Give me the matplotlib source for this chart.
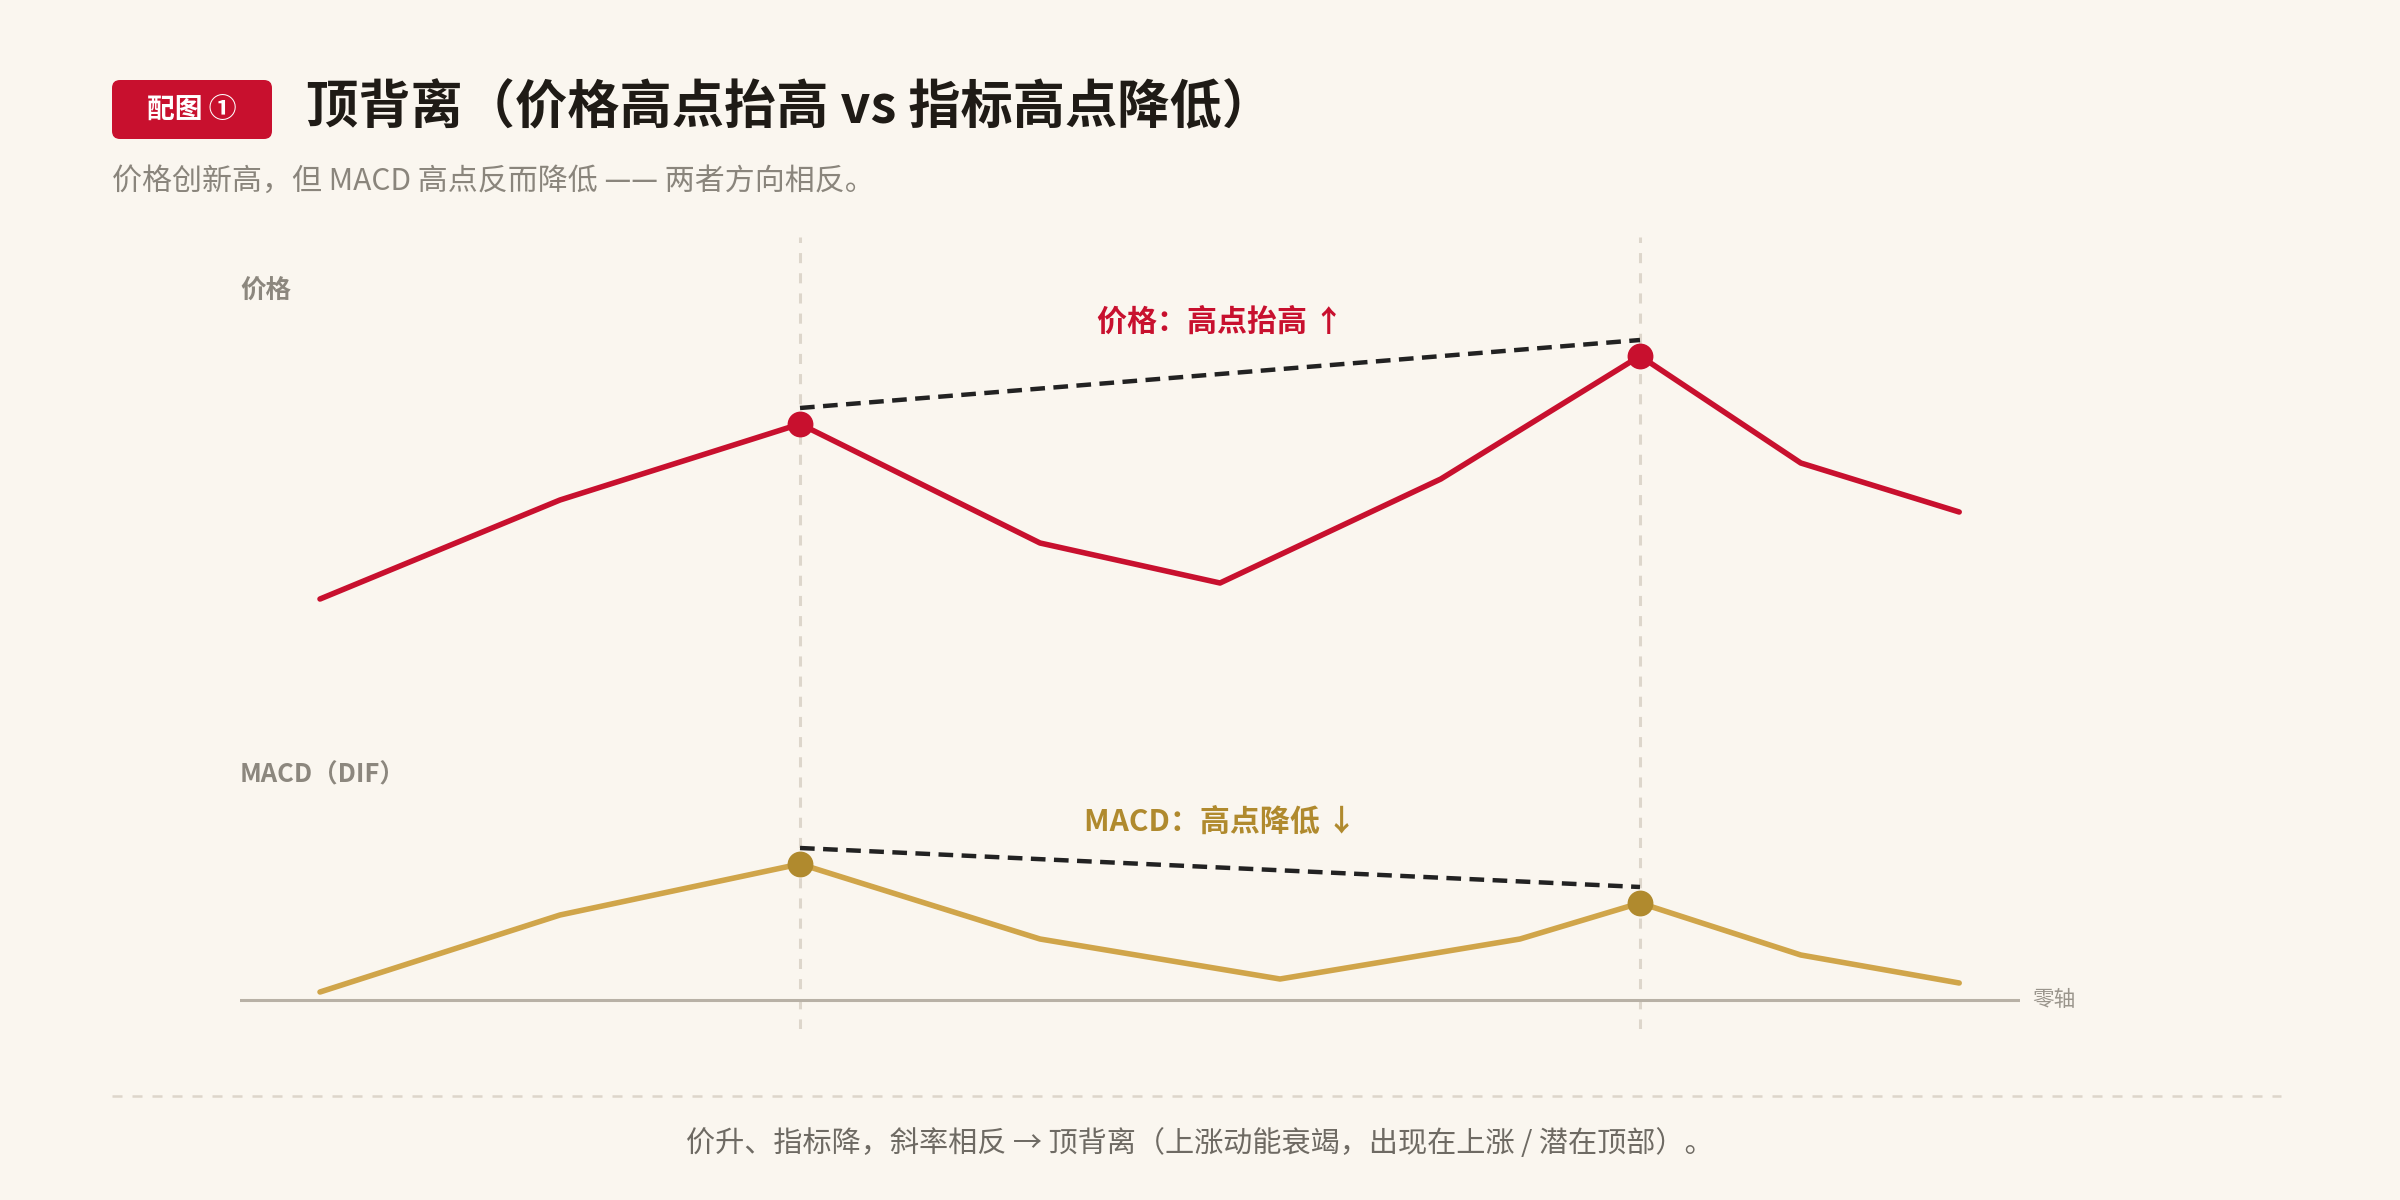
import matplotlib
matplotlib.use('Agg')
import matplotlib.pyplot as plt
from matplotlib.patches import FancyBboxPatch
from matplotlib.lines import Line2D
from matplotlib.transforms import offset_copy

plt.rcParams['font.family'] = ['Noto Sans CJK SC', 'DejaVu Sans']

# 价格走势（横轴为时间位置）
price_x = [0, 1, 2, 3, 3.75, 4.67, 5.5, 6.17, 6.83]
price = [10.1, 20.0, 27.6, 15.7, 11.7, 22.1, 34.4, 23.7, 18.8]

# MACD 的 DIF 线
macd_x = [0, 1, 2, 3, 4, 5, 5.5, 6.17, 6.83]
dif = [0.08, 0.85, 1.36, 0.61, 0.21, 0.61, 0.97, 0.45, 0.17]

# 两个高点
peak_x = [2, 5.5]
price_peaks = [27.6, 34.4]
dif_peaks = [1.36, 0.97]

title = '顶背离（价格高点抬高 vs 指标高点降低）'
subtitle = '价格创新高，但 MACD 高点反而降低 —— 两者方向相反。'
footer = '价升、指标降，斜率相反 → 顶背离（上涨动能衰竭，出现在上涨 / 潜在顶部）。'

BG = '#FAF6EF'
RED = '#C8102E'
GOLD = '#D0A54A'
GOLD_DARK = '#B08A2E'
GRAY = '#8C877E'
GRID = '#DDD6CB'
ZERO = '#B8B1A6'
INK = '#1F1B16'

W, H = 2400, 1200


def rect(x0, y0, x1, y1):
    return [x0 / W, 1 - y1 / H, (x1 - x0) / W, (y1 - y0) / H]


fig = plt.figure(figsize=(12, 6), dpi=200, facecolor=BG)
xlim = (-1 / 3, 85 / 12)

# vertical guides behind both panels
ax_v = fig.add_axes(rect(240, 237, 2020, 1029))
ax_v.set_xlim(*xlim)
ax_v.set_ylim(0, 1)
ax_v.axis('off')
for px in peak_x:
    ax_v.axvline(px, color=GRID, lw=1.1, dashes=(3.3, 3.3))

ax_p = fig.add_axes(rect(240, 237, 2020, 640))
ax_m = fig.add_axes(rect(240, 700, 2020, 1040))
for ax in (ax_p, ax_m):
    ax.set_xlim(*xlim)
    ax.axis('off')
    ax.patch.set_alpha(0)
ax_p.set_ylim(6, 46.3)
ax_m.set_ylim(-0.4, 3.0)

# price panel
ax_p.plot(price_x, price, color=RED, lw=2.0, solid_capstyle='round')
ax_p.plot(peak_x, price_peaks, 'o', ms=8.3, color=RED, zorder=4)
ax_p.plot(peak_x, price_peaks, color='#222222', lw=1.6, dashes=(3.3, 1.9),
          transform=offset_copy(ax_p.transData, fig=fig, y=16, units='dots'))
ax_p.text(sum(peak_x) / 2, 37.8, '价格：高点抬高 ↑', ha='center', va='center',
          color=RED, fontsize=10.8, fontweight='bold')

# macd panel
ax_m.axhline(0, color=ZERO, lw=1.1)
ax_m.plot(macd_x, dif, color=GOLD, lw=2.0, solid_capstyle='round')
ax_m.plot(peak_x, dif_peaks, 'o', ms=8.3, color=GOLD_DARK, zorder=4)
ax_m.plot(peak_x, dif_peaks, color='#222222', lw=1.6, dashes=(3.3, 1.9),
          transform=offset_copy(ax_m.transData, fig=fig, y=16, units='dots'))
ax_m.text(sum(peak_x) / 2, 1.78, 'MACD：高点降低 ↓', ha='center', va='center',
          color=GOLD_DARK, fontsize=10.8, fontweight='bold')
ax_m.annotate('零轴', xy=(1, 0), xycoords=('axes fraction', 'data'),
              xytext=(4.5, 0), textcoords='offset points',
              ha='left', va='center', fontsize=7.8, color='#9A958C')

# panel labels
fig.text(240 / W, 1 - 291 / H, '价格', ha='left', va='center',
         fontsize=9.2, fontweight='bold', color=GRAY)
fig.text(240 / W, 1 - 775 / H, 'MACD（DIF）', ha='left', va='center',
         fontsize=9.2, fontweight='bold', color=GRAY)

# header
badge = FancyBboxPatch((0.56, 5.305), 0.8, 0.295,
                       boxstyle='round,pad=0,rounding_size=0.04',
                       transform=fig.dpi_scale_trans, fc=RED, ec='none')
fig.add_artist(badge)
fig.text(192 / W, 1 - 110 / H, '配图 ①', ha='center', va='center',
         fontsize=10, fontweight='bold', color='white')
fig.text(306 / W, 1 - 108 / H, title, ha='left', va='center',
         fontsize=18.8, fontweight='bold', color=INK)
fig.text(112 / W, 1 - 181 / H, subtitle, ha='left', va='center',
         fontsize=10.8, color='#8A857C')

# footer
fig.add_artist(Line2D([112 / W, 2281 / W], [1 - 1096 / H] * 2,
                      transform=fig.transFigure, color=GRID, lw=0.9,
                      dashes=(4, 4)))
fig.text(0.5, 1 - 1144 / H, footer, ha='center', va='center',
         fontsize=10.5, color='#6E6A63')

fig.savefig('out.png', dpi=200, facecolor=BG)
